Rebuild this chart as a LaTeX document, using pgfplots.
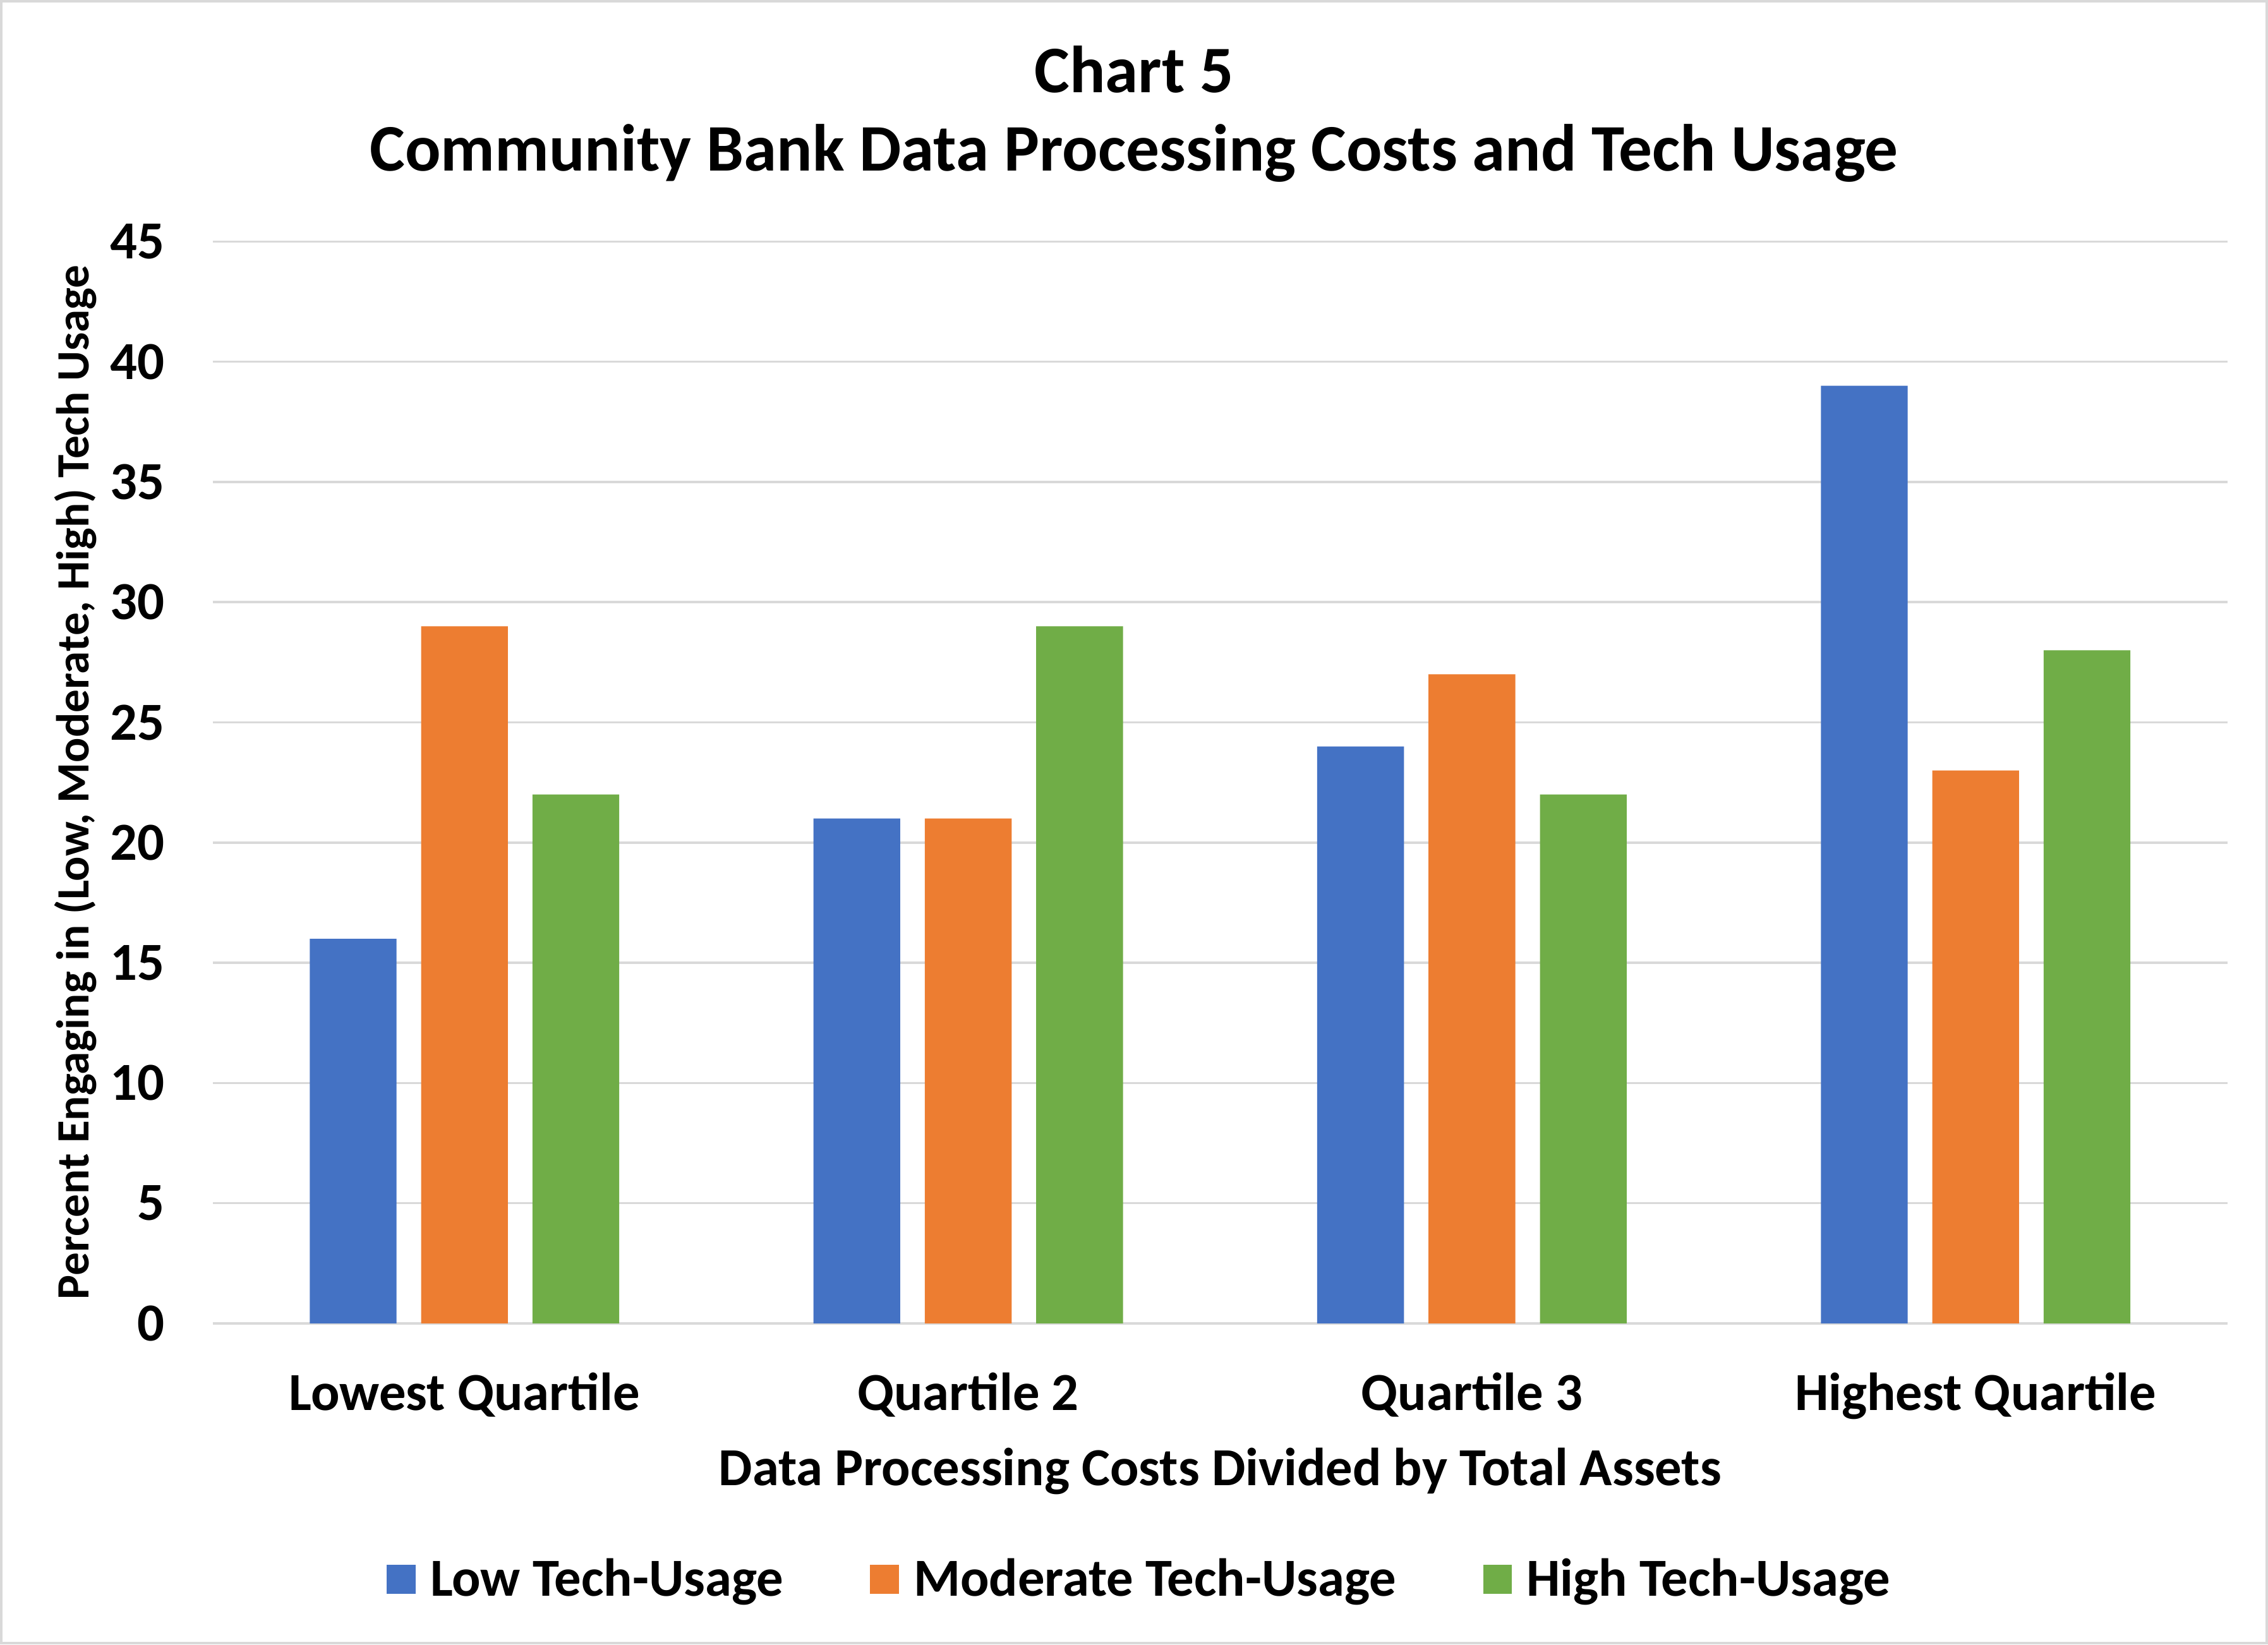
\documentclass[border=0pt]{standalone}
\usepackage{pgfplots}
\pgfplotsset{compat=1.18}
\usepackage{fontspec}
\setmainfont{Carlito}
\definecolor{cblue}{HTML}{4472C4}
\definecolor{corange}{HTML}{ED7D31}
\definecolor{cgreen}{HTML}{70AD47}
\definecolor{cgrid}{HTML}{D9D9D9}
\begin{document}
\begin{tikzpicture}[x=1pt,y=1pt]
\path[use as bounding box] (0,0) rectangle (784,568.5);
\draw[cgrid, line width=0.8pt] (0.5,0.5) rectangle (783.5,568);
\node[font=\fontsize{23}{26}\selectfont\bfseries] at (392,544.5) {Chart 5};
\node[font=\fontsize{23}{26}\selectfont\bfseries] at (392,515.5) {Community Bank Data Processing Costs and Tech Usage};
\begin{axis}[
  at={(73.5pt,111pt)}, anchor=south west,
  scale only axis, width=696.5pt, height=374pt,
  ybar, bar width=30pt, ybar=8.5pt,
  xmin=-0.5, xmax=3.5, ymin=0, ymax=45,
  ytick={0,5,...,45},
  xtick=data,
  xticklabels={Lowest Quartile, Quartile 2, Quartile 3, Highest Quartile},
  ymajorgrids, grid style={cgrid, line width=0.8pt},
  axis x line*=bottom, axis y line*=left,
  x axis line style={cgrid, line width=0.8pt, -},
  y axis line style={draw=none},
  major tick length=0pt,
  /pgf/number format/assume math mode=true,
  ticklabel style={font=\fontsize{18.5}{20}\selectfont\bfseries},
  yticklabel style={xshift=-13pt},
  xticklabel style={yshift=-13.5pt},
  xlabel={Data Processing Costs Divided by Total Assets},
  xlabel style={font=\fontsize{18.5}{20}\selectfont\bfseries, yshift=-3pt},
  ylabel={Percent Engaging in (Low, Moderate, High) Tech Usage},
  ylabel style={font=\fontsize{16}{18}\selectfont\bfseries, yshift=-2pt},
  legend style={at={(0.461,-0.2366)}, anchor=center, draw=none,
    font=\fontsize{18.5}{20}\selectfont\bfseries, legend columns=3,
    /tikz/every odd column/.append style={column sep=3pt},
    /tikz/every even column/.append style={column sep=28pt}},
  legend image code/.code={\fill[#1] (0pt,-5pt) rectangle (10pt,5pt);},
  clip=false,
]
\addplot[fill=cblue, draw=none] coordinates {(0,16) (1,21) (2,24) (3,39)};
\addplot[fill=corange, draw=none] coordinates {(0,29) (1,21) (2,27) (3,23)};
\addplot[fill=cgreen, draw=none] coordinates {(0,22) (1,29) (2,22) (3,28)};
\legend{Low Tech-Usage, Moderate Tech-Usage, High Tech-Usage}
\end{axis}
\end{tikzpicture}
\end{document}
